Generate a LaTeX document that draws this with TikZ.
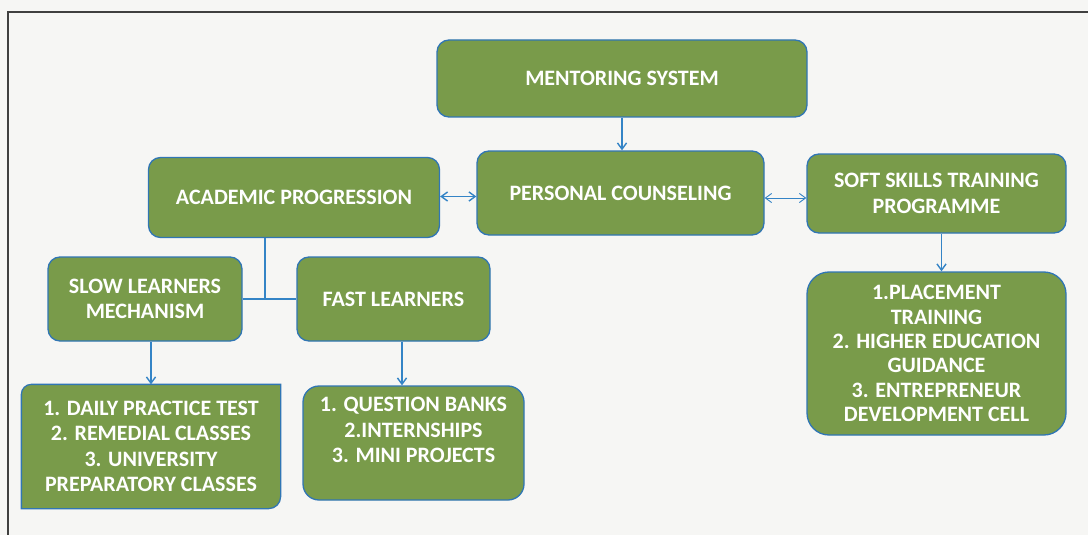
\documentclass[tikz,border=0pt]{standalone}
\usepackage{fontspec}
\setmainfont{Carlito}
\usetikzlibrary{arrows.meta,positioning,backgrounds}
\definecolor{boxgreen}{RGB}{121,155,74}
\definecolor{boxblue}{RGB}{48,118,180}
\definecolor{linkblue}{RGB}{52,132,198}
\definecolor{paper}{RGB}{246,246,244}
\tikzset{
greenbox/.style={
  rectangle,
  rounded corners=12pt,
  line width=1.3pt,
  inner sep=2pt,
  align=center,
  draw=boxblue,
  fill=boxgreen,
  text=white,
  font=\fontsize{22}{25.5}\selectfont\bfseries,
  }
}
\tikzset{
linkline/.style={
  line width=1.4pt,
  draw=linkblue,
  }
}
\tikzset{
arrowline/.style={
  linkline,
  -{Straight Barb[length=2.2mm,width=3.2mm]}
  }
}
\tikzset{
twoline/.style={
  linkline,
  {Straight Barb[length=2.2mm,width=3.2mm]}-{Straight Barb[length=2.2mm,width=3.2mm]}
  }
}

\begin{document}
\begin{tikzpicture}[x=1pt,y=-1pt]
    \useasboundingbox (0,0) rectangle (1088,535);
    \draw[line width=2pt, color=black!75] (8,535) -- (8,12) -- (1088,12);

    % top part
    \node[greenbox, minimum width=370, minimum height=77] (ms) at (622,78.5) {MENTORING SYSTEM};
    \node[greenbox, minimum width=287, minimum height=84] (pc) at (620.5,193) {PERSONAL COUNSELING};
    \node[greenbox, minimum width=291, minimum height=80] (ap) at (294,197.5) {ACADEMIC PROGRESSION};
    \node[greenbox, minimum width=259, minimum height=79] (ss) at (936.5,193.5) {SOFT SKILLS TRAINING\\PROGRAMME};
    \node[greenbox, rounded corners=22pt, minimum width=259, minimum height=163, font=\fontsize{22}{24.3}\selectfont\bfseries] (pl) at (936.5,353.5)
      {1.PLACEMENT\\TRAINING\\2. HIGHER EDUCATION\\GUIDANCE\\3. ENTREPRENEUR\\DEVELOPMENT CELL};

    % learners part
    \node[greenbox, minimum width=194, minimum height=84] (sl) at (145,299) {SLOW LEARNERS\\MECHANISM};
    \node[greenbox, minimum width=193, minimum height=84] (fl) at (393.5,299) {FAST LEARNERS};
    \node[greenbox, draw=none, fill=none, minimum width=258, minimum height=123] (dp) at (151,446.5)
      {1. DAILY PRACTICE TEST\\2. REMEDIAL CLASSES\\3. UNIVERSITY\\PREPARATORY CLASSES};
    \node[greenbox, rounded corners=16pt, minimum width=221, minimum height=114] (qb) at (413.5,443)
      {1. QUESTION BANKS\\2.INTERNSHIPS\\3. MINI PROJECTS\\\mbox{}};
    \coordinate (fork) at (265,299);

    % paper and the odd box outline
    \begin{scope}[on background layer]
    \fill[paper] (0,0) rectangle (1088,535);
    \filldraw[line width=1.3pt, draw=boxblue, fill=boxgreen]
      (dp.south west) [rounded corners=10pt] -- (dp.north west) [sharp corners] -- (dp.north east)
      [rounded corners=12pt] -- (dp.south east) [sharp corners] -- cycle;
    \end{scope}

    % edges
    \draw[arrowline] (ms.south) -- (ms.south |- pc.north);
    \draw[twoline] ([yshift=1pt]ap.east) -- ([yshift=1pt]ap.east -| pc.west);
    \draw[twoline, line width=0.9pt] ([yshift=-5pt]pc.east) -- ([yshift=-5pt]pc.east -| ss.west);
    \draw[arrowline] ([xshift=5pt]ss.south) -- ([xshift=5pt]pl.north);
    \draw[linkline] (fork |- ap.south) -- (fork);
    \draw[linkline] (sl.east) -- (fl.west);
    \draw[arrowline] (sl.south -| dp.north) -- (dp.north);
    \draw[arrowline] ([xshift=8.5pt]fl.south) -- ([xshift=8.5pt]fl.south |- qb.north);
\end{tikzpicture}
\end{document}
